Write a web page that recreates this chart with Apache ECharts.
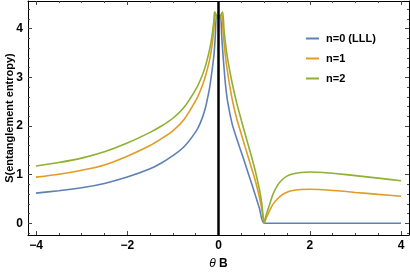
<!DOCTYPE html>
<html>
<head>
<meta charset="utf-8">
<script src="https://cdn.jsdelivr.net/npm/echarts@6/dist/echarts.min.js"></script>
<style>
html,body{margin:0;padding:0;background:#fff;}
#c{width:410px;height:272px;}
</style>
</head>
<body>
<div id="c"></div>
<script>
// Data: [θB, S]
const n0 = [[-4,0.62],[-3.5,0.67],[-3,0.73],[-2.5,0.82],[-2,0.95],[-1.5,1.12],[-1.25,1.24],[-1,1.39],[-0.75,1.58],[-0.5,1.88],[-0.4,2.06],[-0.3,2.33],[-0.2,2.76],[-0.15,3.08],[-0.1,3.45],[-0.07,3.85],[-0.045,4.28],[0,4.25],
  [0.045,4.28],[0.07,3.85],[0.1,3.45],[0.15,2.88],[0.2,2.5],[0.3,2.04],[0.4,1.74],[0.5,1.46],[0.6,1.18],[0.7,0.89],[0.8,0.6],[0.9,0.3],[1,0],[2,0],[3,0],[4,0]];
const n1 = [[-4,0.95],[-3.5,1.01],[-3,1.09],[-2.5,1.20],[-2,1.38],[-1.5,1.60],[-1.25,1.74],[-1,1.90],[-0.75,2.14],[-0.5,2.52],[-0.4,2.72],[-0.3,2.98],[-0.2,3.34],[-0.15,3.6],[-0.1,4.0],[-0.075,4.3],[0,4.2],
  [0.075,4.3],[0.1,3.95],[0.15,3.45],[0.2,3.1],[0.3,2.55],[0.4,2.15],[0.5,1.83],[0.6,1.52],[0.7,1.21],[0.8,0.9],[0.9,0.52],[0.95,0.29],[1,0],
  [1.03,0.07],[1.06,0.14],[1.1,0.22],[1.15,0.32],[1.2,0.4],[1.3,0.51],[1.4,0.59],[1.5,0.64],[1.6,0.67],[1.8,0.695],[2,0.70],[2.3,0.69],[2.6,0.67],[3,0.635],[3.5,0.595],[4,0.558]];
const n2 = [[-4,1.18],[-3.5,1.25],[-3,1.34],[-2.5,1.47],[-2,1.65],[-1.5,1.87],[-1.25,2.00],[-1,2.16],[-0.75,2.39],[-0.5,2.75],[-0.4,2.94],[-0.3,3.19],[-0.2,3.55],[-0.15,3.8],[-0.1,4.18],[-0.085,4.35],[0,4.2],
  [0.09,4.35],[0.12,4.0],[0.15,3.72],[0.2,3.38],[0.3,2.88],[0.4,2.47],[0.5,2.12],[0.6,1.78],[0.7,1.45],[0.8,1.1],[0.9,0.68],[0.95,0.4],[1,0],
  [1.03,0.12],[1.06,0.22],[1.1,0.33],[1.15,0.48],[1.2,0.61],[1.3,0.79],[1.4,0.9],[1.5,0.97],[1.6,1.01],[1.8,1.045],[2,1.055],[2.3,1.045],[2.6,1.02],[3,0.98],[3.5,0.93],[4,0.875]];
const seriesNames = ['n=0 (LLL)','n=1','n=2'];
const xTicks = [-4,-2,0,2,4];
const xTickLabels = ['\u22124','\u22122','0','2','4'];
const xMinorTicks = [-4,-3.5,-3,-2.5,-2,-1.5,-1,-0.5,0,0.5,1,1.5,2,2.5,3,3.5,4];
const yTicks = [0,1,2,3,4];
const yTickLabels = ['0','1','2','3','4'];
const yMinorTicks = [-0.2,0,0.2,0.4,0.6,0.8,1,1.2,1.4,1.6,1.8,2,2.2,2.4,2.6,2.8,3,3.2,3.4,3.6,3.8,4,4.2,4.4];
const verticalLine = [[0,-0.24],[0,4.57]];
const yTitle = 'S(entanglement entropy)';

const colors = ['#5E81B5','#E19C24','#8FB032'];
const X_MIN=-4.175, X_MAX=4.175, Y_MIN=-0.24, Y_MAX=4.57;
const FONT = 'Liberation Sans';

function mkX(pos, major, labels){
  return {
    type:'value', min:X_MIN, max:X_MAX, position:pos, gridIndex:0,
    axisLine:{show:major, onZero:false, lineStyle:{color:'#000',width:1}},
    axisTick:{show:true, inside:true, length: major?4:2, customValues: major?xTicks:xMinorTicks, lineStyle:{color:'#444',width:1}},
    axisLabel:{show:labels, customValues:xTicks, formatter:function(v){const i=xTicks.indexOf(v);return i>=0?xTickLabels[i]:'';}, color:'#000', fontFamily:FONT, fontWeight:'bold', fontSize:12, margin:5},
    splitLine:{show:false}
  };
}
function mkY(pos, major, labels){
  return {
    type:'value', min:Y_MIN, max:Y_MAX, position:pos, gridIndex:0,
    axisLine:{show:major, onZero:false, lineStyle:{color:'#000',width:1}},
    axisTick:{show:true, inside:true, length: major?4:2, customValues: major?yTicks:yMinorTicks, lineStyle:{color:'#444',width:1}},
    axisLabel:{show:labels, customValues:yTicks, formatter:function(v){const i=yTicks.indexOf(v);return i>=0?yTickLabels[i]:'';}, color:'#000', fontFamily:FONT, fontWeight:'bold', fontSize:12, margin:5},
    splitLine:{show:false}
  };
}
const xAxes = [mkX('bottom',true,true), mkX('bottom',false,false), mkX('top',true,false), mkX('top',false,false)];
const yAxes = [mkY('left',true,true), mkY('left',false,false), mkY('right',true,false), mkY('right',false,false)];
xAxes[0].name = '{i|\u03b8} {b|B}';
xAxes[0].nameLocation = 'middle';
xAxes[0].nameGap = 23;
xAxes[0].nameTextStyle = {rich:{i:{fontFamily:FONT,fontStyle:'italic',fontSize:12,color:'#000'},b:{fontFamily:FONT,fontWeight:'bold',fontSize:12,color:'#000'}}};

const chart = echarts.init(document.getElementById('c'), null, {renderer:'canvas'});
const series = [n0,n1,n2].map(function(d,i){
  return {name:seriesNames[i], type:'line', data:d, xAxisIndex:0, yAxisIndex:0, showSymbol:false, symbol:'none',
    smooth:0.2, lineStyle:{color:colors[i], width:1.6}, itemStyle:{color:colors[i]}, z:2+i, animation:false, clip:true};
});
series.push({name:'zero', type:'line', data:verticalLine, xAxisIndex:0, yAxisIndex:0, symbol:'none', silent:true,
  lineStyle:{color:'#000', width:2.5}, z:10, animation:false});

chart.setOption({
  animation:false,
  color:colors,
  grid:{left:28, right:1, top:1, bottom:37, containLabel:false, outerBoundsMode:'none'},
  xAxis:xAxes,
  yAxis:yAxes,
  legend:{data:seriesNames, orient:'vertical', left:306, top:32, padding:0, itemWidth:13, itemHeight:2, icon:'rect', itemGap:7,
    textStyle:{fontFamily:FONT, fontWeight:'bold', fontSize:11, color:'#000', lineHeight:13, padding:[0,0,0,2]}},
  graphic:[{type:'text', x:10, y:118, rotation:Math.PI/2, silent:true,
    style:{text:yTitle, fontFamily:FONT, fontWeight:'bold', fontSize:11, fill:'#000', align:'center', verticalAlign:'middle'}}],
  series:series
});
</script>
</body>
</html>
